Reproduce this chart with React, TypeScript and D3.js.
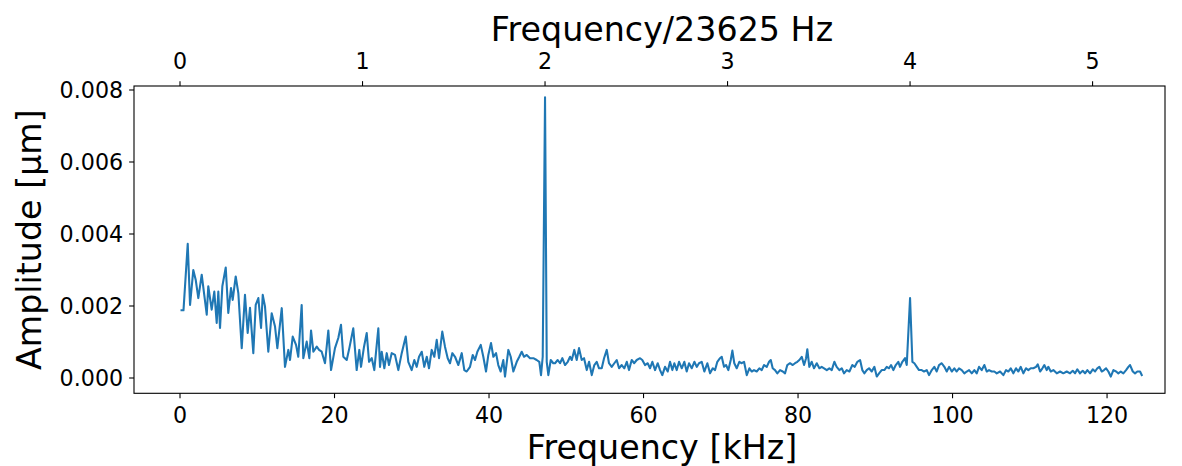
import React from "react";
import * as d3 from "d3";

// Amplitude spectrum: [frequency in kHz, amplitude in nm (= 1e-3 µm)]
const spectrum: [number, number][] = [
  [0.2, 1.88], [0.45, 1.88], [1.0, 3.73], [1.3, 2.03], [1.72, 3.0], [2.03, 2.73], [2.37, 2.22], [2.81, 2.87],
  [3.46, 1.76], [3.66, 2.55], [4.1, 1.9], [4.44, 2.4], [4.75, 1.53], [4.96, 2.4], [5.18, 1.39], [5.48, 2.55],
  [5.92, 3.07], [6.25, 1.81], [6.6, 2.5], [6.82, 2.17], [7.21, 2.82], [7.55, 2.36], [7.99, 0.83], [8.41, 2.31],
  [8.76, 1.25], [9.06, 1.95], [9.49, 0.69], [9.8, 2.03], [10.14, 2.22], [10.49, 1.39], [10.71, 2.31], [11.0, 1.99],
  [11.43, 0.73], [11.87, 1.8], [12.3, 1.43],
  [12.6, 0.83], [13.17, 1.94], [13.59, 0.31], [14.02, 0.78], [14.24, 0.5], [14.59, 1.15], [15.02, 0.92], [15.31, 0.59],
  [15.75, 2.03], [15.96, 0.55], [16.4, 1.01], [16.74, 0.55], [16.96, 1.32], [17.26, 0.73], [17.7, 0.87], [18.0, 0.78],
  [18.34, 0.73], [18.77, 0.41], [19.2, 1.32], [19.55, 0.22], [20.06, 0.83], [20.49, 1.11], [20.84, 1.48], [21.14, 0.59],
  [21.58, 0.5], [21.92, 0.83], [22.43, 1.38], [22.87, 0.22], [23.21, 0.78], [23.43, 0.31], [23.82, 0.87], [24.17, 1.25],
  [24.47, 0.45],
  [24.82, 0.55], [25.15, 0.22], [25.67, 1.38], [25.89, 0.31], [26.11, 0.73], [26.45, 0.27], [26.76, 0.69], [27.05, 0.36],
  [27.4, 0.69], [27.83, 0.64], [28.26, 0.22], [28.7, 0.69], [29.22, 1.15], [29.55, 0.45], [29.99, 0.22], [30.33, 0.5],
  [30.64, 0.31], [30.94, 0.59], [31.29, 0.73], [31.62, 0.31], [31.94, 0.59], [32.23, 0.27], [32.58, 0.78], [32.92, 0.59],
  [33.23, 1.06], [33.53, 0.55], [33.95, 1.29], [34.3, 0.87], [34.65, 0.55], [34.95, 0.41], [35.25, 0.69], [35.6, 0.59],
  [36.03, 0.36], [36.47, 0.69], [36.8, 0.22],
  [37.11, 0.18], [37.54, 0.31], [37.89, 0.64], [38.19, 0.5], [38.49, 0.73], [38.93, 0.92], [39.26, 0.59], [39.61, 0.18],
  [39.91, 0.64], [40.26, 0.97], [40.56, 0.59], [40.91, 0.69], [41.2, 0.36], [41.51, 0.18], [41.85, 0.5], [42.07, 0.04],
  [42.5, 0.78], [42.81, 0.59], [43.15, 0.18], [43.59, 0.45], [43.92, 0.59], [44.23, 0.73], [44.53, 0.59], [44.88, 0.64],
  [45.31, 0.55], [45.74, 0.55], [46.17, 0.5], [46.51, 0.45], [46.73, 0.08], [46.95, 0.59], [47.25, 7.8], [47.47, 0.45],
  [47.68, 0.08], [47.99, 0.5], [48.32, 0.41],
  [48.54, 0.41], [48.89, 0.5], [49.19, 0.41], [49.49, 0.55], [49.84, 0.36], [50.19, 0.45], [50.49, 0.59], [50.71, 0.5],
  [51.04, 0.78], [51.35, 0.5], [51.65, 0.83], [52.0, 0.5], [52.3, 0.55], [52.65, 0.22], [52.95, 0.45], [53.3, 0.08],
  [53.63, 0.36], [53.94, 0.45], [54.24, 0.27], [54.59, 0.27], [54.89, 0.55], [55.24, 0.78], [55.53, 0.41], [55.88, 0.31],
  [56.22, 0.41], [56.53, 0.5], [56.83, 0.27], [57.18, 0.36], [57.51, 0.27], [57.83, 0.45], [58.12, 0.22], [58.47, 0.5],
  [58.8, 0.41], [59.12, 0.5], [59.55, 0.55], [59.84, 0.5], [60.19, 0.36], [60.54, 0.41], [60.84, 0.27], [61.14, 0.45],
  [61.49, 0.22], [61.84, 0.41], [62.14, 0.22], [62.43, 0.08], [62.78, 0.31], [63.13, 0.18], [63.43, 0.45], [63.73, 0.22],
  [63.99, 0.41], [64.3, 0.22], [64.6, 0.45], [64.95, 0.27], [65.28, 0.45], [65.59, 0.18], [65.89, 0.41], [66.24, 0.27],
  [66.58, 0.45], [66.89, 0.31], [67.18, 0.41], [67.53, 0.45], [67.87, 0.18],
  [68.26, 0.41], [68.61, 0.13], [68.96, 0.27], [69.26, 0.22], [69.55, 0.45], [69.9, 0.55], [70.12, 0.59], [70.42, 0.31],
  [70.68, 0.36], [70.98, 0.22], [71.29, 0.5], [71.5, 0.76], [71.75, 0.41], [72.06, 0.27], [72.4, 0.45], [72.71, 0.41],
  [73.01, 0.45], [73.36, 0.08], [73.7, 0.27], [74.01, 0.18], [74.3, 0.22], [74.65, 0.18], [74.99, 0.27], [75.3, 0.22],
  [75.6, 0.36], [75.95, 0.31], [76.25, 0.45], [76.47, 0.5], [76.72, 0.27], [77.02, 0.22], [77.32, 0.13], [77.67, 0.22],
  [78.02, 0.18], [78.32, 0.13], [78.61, 0.36], [78.96, 0.41], [79.31, 0.36], [79.61, 0.41], [79.91, 0.45], [80.17, 0.5],
  [80.48, 0.59], [80.78, 0.36], [81.04, 0.55], [81.2, 0.8], [81.46, 0.31], [81.77, 0.45], [82.07, 0.27], [82.42, 0.41],
  [82.76, 0.27], [83.06, 0.31], [83.37, 0.27], [83.72, 0.22], [84.05, 0.27], [84.36, 0.22], [84.7, 0.45], [85.0, 0.31],
  [85.35, 0.22], [85.66, 0.27], [85.95, 0.13], [86.3, 0.22],
  [86.65, 0.18], [87.03, 0.36], [87.34, 0.31], [87.68, 0.45], [88.03, 0.5], [88.32, 0.22], [88.58, 0.13], [88.89, 0.22],
  [89.19, 0.27], [89.54, 0.18], [89.88, 0.31], [90.19, 0.04], [90.49, 0.13], [90.83, 0.22], [91.17, 0.22], [91.48, 0.31],
  [91.78, 0.27], [92.04, 0.36], [92.34, 0.22], [92.65, 0.36], [92.98, 0.45], [93.2, 0.31], [93.5, 0.45], [93.85, 0.55],
  [94.07, 0.36], [94.5, 2.22], [94.8, 0.45], [95.06, 0.41], [95.37, 0.31], [95.66, 0.22], [96.01, 0.22], [96.31, 0.18],
  [96.66, 0.22], [96.96, 0.08], [97.31, 0.22], [97.64, 0.31], [97.95, 0.18], [98.25, 0.36], [98.6, 0.41], [98.94, 0.31],
  [99.25, 0.18], [99.55, 0.31], [99.9, 0.18], [100.23, 0.27], [100.54, 0.18], [100.84, 0.27], [101.19, 0.22], [101.53, 0.13],
  [101.84, 0.18], [102.14, 0.22], [102.49, 0.13], [102.82, 0.22], [103.13, 0.13], [103.43, 0.31], [103.78, 0.22], [104.12, 0.36],
  [104.43, 0.18], [104.72, 0.22], [105.07, 0.18], [105.41, 0.18],
  [105.72, 0.13], [106.15, 0.18], [106.58, 0.08], [106.93, 0.22], [107.22, 0.18], [107.53, 0.27], [107.87, 0.13], [108.22, 0.27],
  [108.52, 0.18], [108.83, 0.31], [109.17, 0.13], [109.51, 0.27], [109.81, 0.22], [110.12, 0.27], [110.46, 0.27], [110.81, 0.31],
  [111.03, 0.38], [111.33, 0.18], [111.63, 0.27], [111.88, 0.36], [112.19, 0.22], [112.4, 0.31], [112.71, 0.18], [113.05, 0.22],
  [113.49, 0.13], [113.92, 0.18], [114.34, 0.13], [114.78, 0.18], [115.21, 0.13], [115.56, 0.2], [115.86, 0.13], [116.15, 0.24],
  [116.5, 0.13], [116.85, 0.2], [117.15, 0.13], [117.45, 0.22], [117.8, 0.13], [118.15, 0.24], [118.45, 0.18], [118.74, 0.27],
  [119.0, 0.31], [119.31, 0.18], [119.61, 0.22], [119.87, 0.27], [120.17, 0.18], [120.48, 0.04], [120.82, 0.22], [121.17, 0.18],
  [121.46, 0.13], [121.77, 0.18], [122.11, 0.13], [122.46, 0.22], [122.76, 0.31], [122.98, 0.36], [123.33, 0.18], [123.62, 0.13],
  [123.92, 0.18], [124.27, 0.18], [124.49, 0.08],
];

const bottomTicksKHz = [0, 20, 40, 60, 80, 100, 120];
const topTicksHarmonic = [0, 1, 2, 3, 4, 5];
const yTicksNm = [0, 2, 4, 6, 8];
const harmonicKHz = 23.625;

const xDomainKHz: [number, number] = [-5.955, 127.5];
const yDomainNm: [number, number] = [-0.425, 8.111];

const FONT = "'DejaVu Sans', Verdana, sans-serif";

export default function App() {
  const W = 1182;
  const H = 466;
  const left = 134;
  const right = 1165;
  const top = 86;
  const bottom = 393.3;
  const tickLen = 4.86;
  const tickFont = 22.2;
  const labelFont = 33.3;
  const labelCenterX = 662;

  const x = d3.scaleLinear().domain(xDomainKHz).range([left, right]);
  const xTop = d3
    .scaleLinear()
    .domain([xDomainKHz[0] / harmonicKHz, xDomainKHz[1] / harmonicKHz])
    .range([left, right]);
  const y = d3.scaleLinear().domain(yDomainNm).range([bottom, top]);

  const line = d3
    .line<[number, number]>()
    .x((d) => x(d[0]))
    .y((d) => y(d[1]));

  const fmtY = (v: number) => (v / 1000).toFixed(3);

  return (
    <div style={{ position: "absolute", left: 0, top: 0 }}>
      <svg width={W} height={H} style={{ display: "block", background: "#fff" }}>
        <rect x={0} y={0} width={W} height={H} fill="#fff" />
        <path
          d={line(spectrum) || ""}
          fill="none"
          stroke="#1f77b4"
          strokeWidth={2.08}
          strokeLinejoin="round"
          strokeLinecap="square"
        />
        {/* spines */}
        <rect
          x={left}
          y={top}
          width={right - left}
          height={bottom - top}
          fill="none"
          stroke="#000"
          strokeWidth={1.1}
        />
        {/* bottom ticks */}
        {bottomTicksKHz.map((t) => (
          <g key={"b" + t}>
            <line x1={x(t)} x2={x(t)} y1={bottom} y2={bottom + tickLen} stroke="#000" strokeWidth={1.1} />
            <text
              x={x(t)}
              y={423}
              textAnchor="middle"
              fontFamily={FONT}
              fontSize={tickFont}
              fill="#000"
            >
              {t}
            </text>
          </g>
        ))}
        {/* top ticks */}
        {topTicksHarmonic.map((t) => (
          <g key={"t" + t}>
            <line x1={xTop(t)} x2={xTop(t)} y1={top} y2={top - tickLen} stroke="#000" strokeWidth={1.1} />
            <text
              x={xTop(t)}
              y={69}
              textAnchor="middle"
              fontFamily={FONT}
              fontSize={tickFont}
              fill="#000"
            >
              {t}
            </text>
          </g>
        ))}
        {/* y ticks */}
        {yTicksNm.map((t) => (
          <g key={"y" + t}>
            <line x1={left} x2={left - tickLen} y1={y(t)} y2={y(t)} stroke="#000" strokeWidth={1.1} />
            <text
              x={left - tickLen - 6}
              y={y(t) + 8.1}
              textAnchor="end"
              fontFamily={FONT}
              fontSize={tickFont}
              fill="#000"
            >
              {fmtY(t)}
            </text>
          </g>
        ))}
        {/* axis labels */}
        <text
          x={labelCenterX}
          y={459}
          textAnchor="middle"
          fontFamily={FONT}
          fontSize={labelFont}
          fill="#000"
        >
          Frequency [kHz]
        </text>
        <text
          x={labelCenterX}
          y={41}
          textAnchor="middle"
          fontFamily={FONT}
          fontSize={labelFont}
          fill="#000"
        >
          Frequency/23625 Hz
        </text>
        <text
          transform={`translate(41, ${(top + bottom) / 2}) rotate(-90)`}
          textAnchor="middle"
          fontFamily={FONT}
          fontSize={labelFont}
          fill="#000"
        >
          Amplitude [µm]
        </text>
      </svg>
    </div>
  );
}
